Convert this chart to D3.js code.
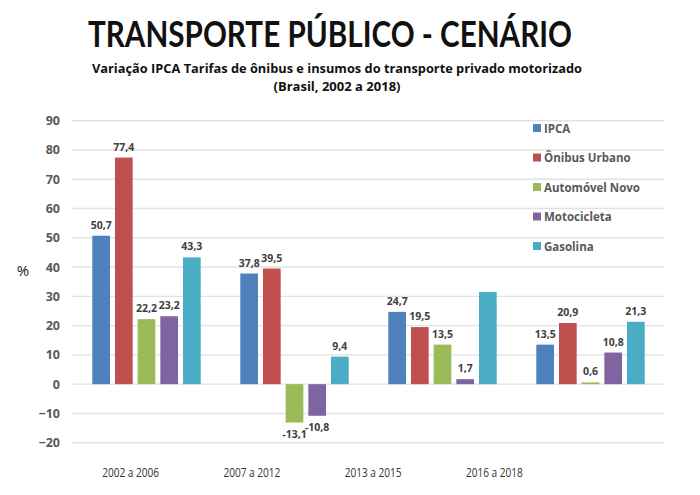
<!DOCTYPE html>
<html><head><meta charset="utf-8">
<script src="https://cdn.jsdelivr.net/npm/d3@7"></script>
<style>body{margin:0;background:#fff;} svg{display:block;}</style>
</head><body>
<svg id="c" width="700" height="495"></svg>
<script>
const categories = ["2002 a 2006", "2007 a 2012", "2013 a 2015", "2016 a 2018"];
const seriesNames = ["IPCA", "Ônibus Urbano", "Automóvel Novo", "Motocicleta", "Gasolina"];
const seriesColors = ["#4F81BD", "#C0504D", "#9BBB59", "#8064A2", "#4BACC6"];
const ipca = [50.7, 37.8, 24.7, 13.5];
const onibus = [77.4, 39.5, 19.5, 20.9];
const automovel = [22.2, -13.1, 13.5, 0.6];
const motocicleta = [23.2, -10.8, 1.7, 10.8];
const gasolina = [43.3, 9.4, 31.5, 21.3];
const gasolinaLabels = ["43,3", "9,4", null, "21,3"];
const yTicks = [-20, -10, 0, 10, 20, 30, 40, 50, 60, 70, 80, 90];
const title = "TRANSPORTE PÚBLICO - CENÁRIO";
const subtitle1 = "Variação IPCA Tarifas de ônibus e insumos do transporte privado motorizado";
const subtitle2 = "(Brasil, 2002 a 2018)";

const seriesValues = [ipca, onibus, automovel, motocicleta, gasolina];
const fmt = v => String(v).replace(".", ",");

const svg = d3.select("#c");
const font = "'Open Sans', 'Noto Sans', sans-serif";

const y = d3.scaleLinear().domain([-20, 90]).range([442.7, 120.7]);
const x0 = d3.scaleBand().domain(categories).range([72, 664]);
const x1 = d3.scaleBand().domain(seriesNames).range([20.3, 128.7]).paddingInner(0.22);
const xLab = d3.scaleBand().domain(categories).range([70, 555]);

// title
svg.append("text").attr("x", 330).attr("y", 47).attr("text-anchor", "middle")
  .attr("font-family", "Lato, 'Open Sans', sans-serif").attr("font-weight", 700).attr("font-size", 36)
  .attr("textLength", 484).attr("lengthAdjust", "spacingAndGlyphs")
  .attr("fill", "#111").text(title);
svg.append("text").attr("x", 337).attr("y", 72.5).attr("text-anchor", "middle")
  .attr("font-family", font).attr("font-weight", 700).attr("font-size", 12.5)
  .attr("textLength", 490).attr("lengthAdjust", "spacingAndGlyphs")
  .attr("fill", "#111").text(subtitle1);
svg.append("text").attr("x", 337).attr("y", 91).attr("text-anchor", "middle")
  .attr("font-family", font).attr("font-weight", 700).attr("font-size", 12.5)
  .attr("textLength", 127).attr("lengthAdjust", "spacingAndGlyphs")
  .attr("fill", "#111").text(subtitle2);

// gridlines
svg.append("g").selectAll("line").data(yTicks).join("line")
  .attr("x1", 72).attr("x2", 664)
  .attr("y1", d => y(d)).attr("y2", d => y(d))
  .attr("stroke", "#e2e2e2").attr("stroke-width", 1.4);

// y axis labels
const yAxis = svg.append("g").attr("transform", "translate(60,0)")
  .call(d3.axisLeft(y).tickValues(yTicks).tickSize(0).tickPadding(0));
yAxis.select(".domain").remove();
yAxis.selectAll("text").attr("font-family", font).attr("font-weight", 700)
  .attr("font-size", 12.5).attr("fill", "#595959");

svg.append("text").attr("x", 23).attr("y", 276).attr("text-anchor", "middle")
  .attr("font-family", font).attr("font-size", 15).attr("fill", "#222").text("%");

// bars
const groups = svg.append("g").selectAll("g").data(categories).join("g")
  .attr("transform", c => `translate(${x0(c)},0)`);
groups.each(function(c, ci) {
  const g = d3.select(this);
  seriesNames.forEach((s, si) => {
    const v = seriesValues[si][ci];
    g.append("rect")
      .attr("x", x1(s)).attr("width", x1.bandwidth())
      .attr("y", y(Math.max(0, v))).attr("height", Math.abs(y(v) - y(0)))
      .attr("fill", seriesColors[si]);
    const lab = si === 4 ? gasolinaLabels[ci] : fmt(v);
    if (lab) {
      g.append("text")
        .attr("x", x1(s) + x1.bandwidth() / 2)
        .attr("y", v >= 0 ? y(v) - 7 : y(v) + 15)
        .attr("text-anchor", "middle")
        .attr("font-family", font).attr("font-weight", 700).attr("font-size", 10.5)
        .attr("fill", "#404040").text(lab);
    }
  });
});

// category labels
const xAxis = svg.append("g").attr("transform", "translate(0,468)")
  .call(d3.axisBottom(xLab).tickSize(0).tickPadding(0));
xAxis.select(".domain").remove();
xAxis.selectAll("text").attr("font-family", font).attr("font-size", 12.5)
  .attr("textLength", 57).attr("lengthAdjust", "spacingAndGlyphs")
  .attr("fill", "#333");

// legend
const leg = svg.append("g").selectAll("g").data(seriesNames).join("g")
  .attr("transform", (d, i) => `translate(533,${128 + i * 29.5})`);
leg.append("rect").attr("x", 0).attr("y", -4).attr("width", 8).attr("height", 8)
  .attr("fill", (d, i) => seriesColors[i]);
leg.append("text").attr("x", 11).attr("y", 4.5)
  .attr("font-family", font).attr("font-weight", 700).attr("font-size", 11.5)
  .attr("fill", "#595959").text(d => d);
</script>
</body></html>
